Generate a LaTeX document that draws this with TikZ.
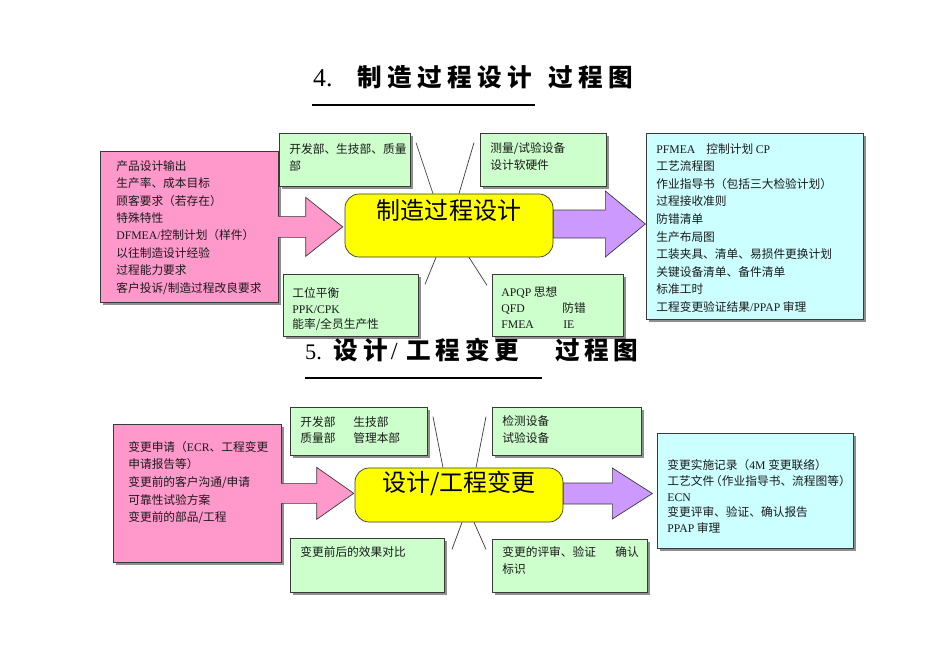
\documentclass[tikz,border=0pt]{standalone}
\usepackage{fontspec}
\setmainfont{Noto Sans CJK SC}
\newfontfamily\en{Liberation Serif}
\newfontfamily\numfont{Liberation Serif}
\newfontfamily\ttlfont[LetterSpace=19]{Noto Sans CJK SC}
\newfontfamily\ttlwide[LetterSpace=22]{Noto Sans CJK SC}
\usepackage{xcolor}
\usepackage{tikz}
\usetikzlibrary{calc,shadows}

\definecolor{pinkA}{HTML}{FF99CC}
\definecolor{greenA}{HTML}{CCFFCC}
\definecolor{cyanA}{HTML}{CCFFFF}
\definecolor{yellowA}{HTML}{FFFF00}
\definecolor{purpleA}{HTML}{CC99FF}
\definecolor{lineA}{HTML}{3A3A3A}

\newlength{\pxu}\setlength{\pxu}{0.03cm}
% width, height, left pad, top pad, lines
\newcommand{\boxtxt}[5]{%
  \begin{minipage}[t][#2\pxu][t]{#1\pxu}%
    \vspace*{#4\pxu}\raggedright\leftskip=#3\pxu #5%
  \end{minipage}}

\begin{document}
\begin{tikzpicture}[
  x=0.03cm, y=-0.03cm,
  outline/.style={draw=lineA, line width=0.6pt},
  shade/.style={drop shadow={shadow xshift=2.5\pxu, shadow yshift=-2.5\pxu,
                fill=black!55, opacity=0.8}},
  listbox/.style={outline, shade, anchor=north west, inner sep=0pt,
                  text=black!90, font=\fontsize{10}{#1}\selectfont},
  pinkbox/.style={listbox=#1, fill=pinkA},
  greenbox/.style={listbox=#1, fill=greenA},
  cyanbox/.style={listbox=#1, fill=cyanA},
  corebox/.style={outline, fill=yellowA, rounded corners=12pt,
                  minimum width=208\pxu, inner sep=0pt,
                  font=\fontsize{20.5}{24}\selectfont},
  fatarrow/.style={outline, line join=miter},
  spoke/.style={draw=lineA, line width=0.6pt},
  heading/.style={anchor=west, inner sep=0pt},
  rule/.style={line width=2pt}
]
  \path[use as bounding box, fill=white] (0,0) rectangle (950,672);

  % 4. Manufacturing process design
  \node[heading] (ttl1) at (313,77) {{\numfont\fontsize{22}{22}\selectfont 4.}\hspace{25\pxu}%
    {\ttlwide\bfseries\fontsize{21}{21}\selectfont 制造过程设计\hspace{16\pxu}过程图}};
  \draw[rule] (312,105) -- (535,105);

  \node[pinkbox=14.85] (pin1) at (100,151) {\boxtxt{178}{151}{16}{9}{产品设计输出\\生产率、成本目标\\
    顾客要求（若存在）\\特殊特性\\{\en DFMEA/}控制计划（样件）\\以往制造设计经验\\过程能力要求\\
    客户投诉/制造过程改良要求}};
  \draw[fatarrow, fill=pinkA] ([xshift=-0.5\pxu]pin1.east) ++(0,-10.5) -- ++(27.5,0) -- ++(0,-19)
    -- ++(37,29.5) -- ++(-37,29.5) -- ++(0,-19) -- ++(-27.5,0);

  \node[corebox, minimum height=63\pxu] (core1) at (449,225.5) {\raisebox{6\pxu}[0pt][0pt]{制造过程设计}};
  \draw[fatarrow, fill=purpleA] (core1.east) ++(0,-15.5) -- ++(52,0) -- ++(0,-19)
    -- ++(40,33) -- ++(-40,33) -- ++(0,-19) -- ++(-52,0) -- cycle;

  \node[greenbox=14.5] (dep1) at (279,133) {\boxtxt{131}{53}{10}{10}{开发部、生技部、质量\\部}};
  \node[greenbox=14.5] (equ1) at (480,133) {\boxtxt{126}{53}{10}{9}{测量/试验设备\\设计软硬件}};
  \node[greenbox=13.5] (cap1) at (283,274) {\boxtxt{135}{62}{9}{13}{工位平衡\\{\en PPK/CPK}\\能率/全员生产性}};
  \node[greenbox=13.7] (met1) at (492,274) {\boxtxt{131}{62}{9}{12}{{\en APQP} 思想\\
    \makebox[61\pxu][l]{\en QFD}防错\\\makebox[62\pxu][l]{\en FMEA}{\en IE}}};

  \node[cyanbox=15] (out1) at (646,133) {\boxtxt{217}{186}{10}{10}{\makebox[50\pxu][l]{\en PFMEA}控制计划 {\en CP}\\
    工艺流程图\\作业指导书（包括三大检验计划）\\过程接收准则\\防错清单\\生产布局图\\
    工装夹具、清单、易损件更换计划\\关键设备清单、备件清单\\标准工时\\工程变更验证结果{\en /PPAP} 审理}};

  \draw[spoke] ($(core1.north)+(-16,0)$) -- ++(-17,-51);
  \draw[spoke] ($(core1.north)+(10,0)$) -- ++(15,-51);
  \draw[spoke] ($(core1.south)+(-13,0)$) -- ++(-11,27);
  \draw[spoke] ($(core1.south)+(20,0)$) -- ++(18,28);

  % 5. Design / engineering change
  \node[heading] (ttl2) at (305,350) {{\numfont\fontsize{19}{19}\selectfont 5.}\hspace{12\pxu}%
    {\ttlfont\bfseries\fontsize{21}{21}\selectfont 设计\hspace{3\pxu}{\numfont\mdseries /}\hspace{9\pxu}工程变更\hspace{36\pxu}过程图}};
  \draw[rule] (305,378) -- (542,378);

  \node[pinkbox=15] (pin2) at (113,424) {\boxtxt{168}{138}{15}{17}{变更申请（{\en ECR}、工程变更\\
    申请报告等）\\变更前的客户沟通/申请\\可靠性试验方案\\变更前的部品/工程}};
  \draw[fatarrow, fill=pinkA] ([xshift=-0.5\pxu]pin2.east) ++(0,-10) -- ++(35.5,0) -- ++(0,-16)
    -- ++(37,26) -- ++(-37,26) -- ++(0,-16) -- ++(-35.5,0);

  \node[corebox, minimum height=54\pxu] (core2) at (459,495) {\raisebox{4\pxu}[0pt][0pt]{设计/工程变更}};
  \draw[fatarrow, fill=purpleA] (core2.east) ++(0,-12) -- ++(49,0) -- ++(0,-15)
    -- ++(40,25.5) -- ++(-40,25.5) -- ++(0,-15) -- ++(-49,0) -- cycle;

  \node[greenbox=13.7] (dep2) at (290,407) {\boxtxt{137}{48}{10}{9}{\makebox[53\pxu][l]{开发部}生技部\\
    \makebox[53\pxu][l]{质量部}管理本部}};
  \node[greenbox=14.5] (equ2) at (492,407) {\boxtxt{149}{48}{10}{8}{检测设备\\试验设备}};
  \node[greenbox=14.5] (eff2) at (290,538) {\boxtxt{154}{54}{10}{8}{变更前后的效果对比}};
  \node[greenbox=15] (rev2) at (492,539) {\boxtxt{155}{53}{10}{7}{\makebox[113\pxu][l]{变更的评审、验证}确认\\标识}};

  \node[cyanbox=13.5] (out2) at (657,433) {\boxtxt{196}{115}{10}{26}{变更实施记录（{\en 4M} 变更联络）\\
    工艺文件\kern-4\pxu（作业指导书、流程图等）\\{\en ECN}\\变更评审、验证、确认报告\\{\en PPAP} 审理}};

  \draw[spoke] ($(core2.north)+(-16,0)$) -- ++(-10,-51);
  \draw[spoke] ($(core2.north)+(17,0)$) -- ++(10,-51);
  \draw[spoke] ($(core2.south)+(3,0)$) -- ++(-10,27);
  \draw[spoke] ($(core2.south)+(15,0)$) -- ++(12,27);
\end{tikzpicture}
\end{document}
